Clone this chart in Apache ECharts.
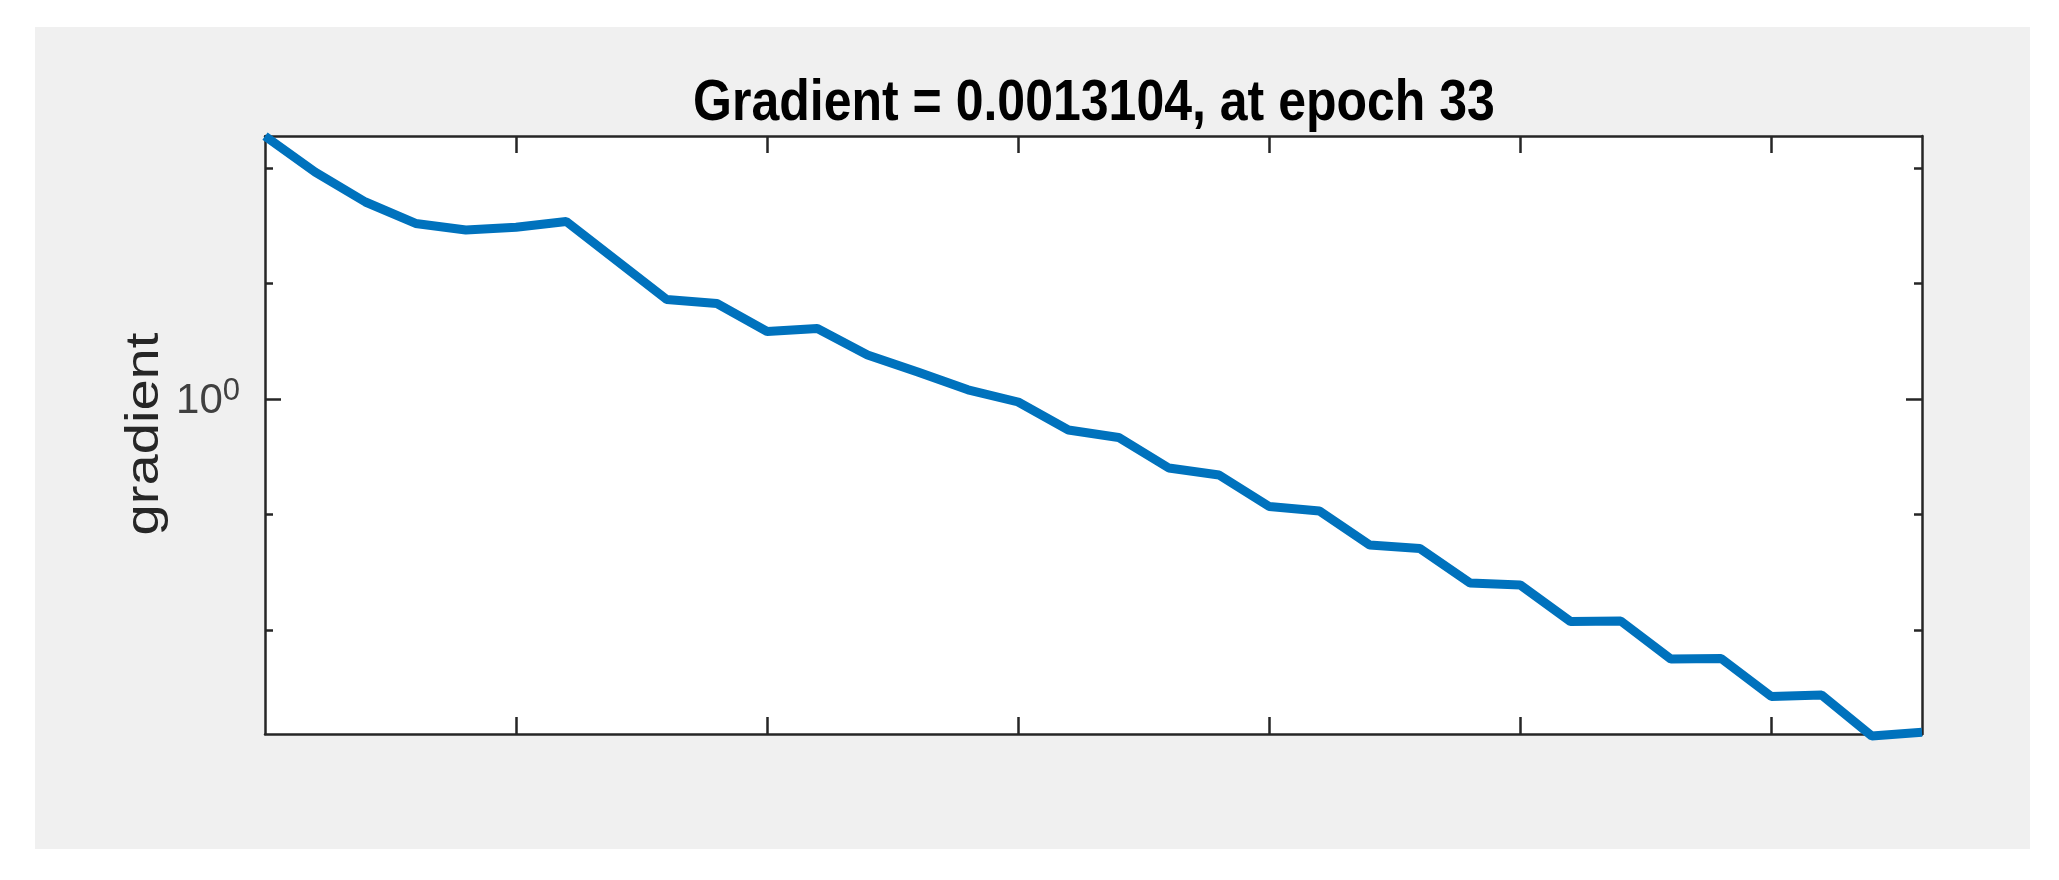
<!DOCTYPE html>
<html>
<head>
<meta charset="utf-8">
<title>Gradient</title>
<script src="https://cdn.jsdelivr.net/npm/echarts@6/dist/echarts.min.js"></script>
<style>
  html, body { margin: 0; padding: 0; background: #fff; }
  #chart { width: 2059px; height: 880px; }
</style>
</head>
<body>
<div id="chart"></div>
<script>
// training record, one value per epoch
const epochs = [0, 1, 2, 3, 4, 5, 6, 7, 8, 9, 10, 11, 12, 13, 14, 15, 16,
  17, 18, 19, 20, 21, 22, 23, 24, 25, 26, 27, 28, 29, 30, 31, 32, 33];
const gradient = [188, 91.9, 50.6, 33.0, 29.0, 30.6, 34.3, 15.8, 7.26, 6.70,
  3.84, 4.07, 2.40, 1.71, 1.20, 0.942, 0.539, 0.465, 0.253, 0.220,
  0.1175, 0.1074, 0.0546, 0.0509, 0.0256, 0.0246, 0.01189, 0.01201,
  0.00563, 0.00569, 0.00267, 0.00275, 0.001216, 0.0013104];

const xTicks = [5, 10, 15, 20, 25, 30];
const yMajorTicks = [1];
const yMinorTicks = [0.01, 0.1, 10, 100];
const yMin = 0.001265;
const yMax = 188.4;
const titleText = 'Gradient = 0.0013104, at epoch 33';
const yName = 'gradient';

const axisColor = '#262626';
const lineColor = '#0072BD';

let chart = echarts.init(document.getElementById('chart'));

function xAxisOpt(pos) {
  return {
    type: 'value',
    position: pos,
    min: 0,
    max: 33,
    axisLine: { show: true, lineStyle: { color: axisColor, width: 2.5 } },
    axisTick: { show: true, inside: true, length: 17, customValues: xTicks,
      lineStyle: { color: axisColor, width: 2.5 } },
    axisLabel: { show: false },
    splitLine: { show: false }
  };
}

function yAxisOpt(pos, ticks, len, withLine, withLabel) {
  return {
    type: 'log',
    logBase: 10,
    position: pos,
    min: yMin,
    max: yMax,
    axisLine: { show: withLine, lineStyle: { color: axisColor, width: 2.5 } },
    axisTick: { show: true, inside: true, length: len, customValues: ticks,
      lineStyle: { color: axisColor, width: 2.5 } },
    axisLabel: withLabel ? {
      show: true,
      customValues: yMajorTicks,
      margin: 25,
      formatter: function () { return '{b|10}{s|0}'; },
      rich: {
        b: { fontFamily: 'Liberation Sans', fontSize: 42, color: '#404040',
          lineHeight: 46, verticalAlign: 'bottom', padding: [14, 0, 0, 0] },
        s: { fontFamily: 'Liberation Sans', fontSize: 31, color: '#404040',
          lineHeight: 31, verticalAlign: 'top' }
      }
    } : { show: false },
    splitLine: { show: false }
  };
}

chart.setOption({
  backgroundColor: '#fff',
  animation: false,
  graphic: [
    {
      type: 'rect', z: -10,
      shape: { x: 35, y: 27, width: 1995, height: 822 },
      style: { fill: '#f0f0f0' }
    },
    {
      type: 'text', x: 1094, y: 104, scaleY: 1.14,
      style: { text: titleText, fill: '#000', align: 'center', verticalAlign: 'middle',
        font: 'bold 50px "Liberation Sans"' }
    },
    {
      type: 'text', x: 145, y: 434, rotation: Math.PI / 2, scaleX: 1.22,
      style: { text: yName, fill: '#262626', align: 'center', verticalAlign: 'middle',
        font: '46px "Liberation Sans"' }
    }
  ],
  grid: {
    left: 265, top: 136, width: 1657, height: 598,
    show: true, backgroundColor: '#fff', borderWidth: 0
  },
  xAxis: [xAxisOpt('bottom'), xAxisOpt('top')],
  yAxis: [
    yAxisOpt('left', yMajorTicks, 16, true, true),
    yAxisOpt('left', yMinorTicks, 8, false, false),
    yAxisOpt('right', yMajorTicks, 16, true, false),
    yAxisOpt('right', yMinorTicks, 8, false, false)
  ],
  series: [
    {
      type: 'line',
      xAxisIndex: 0,
      yAxisIndex: 0,
      data: epochs.map((e, i) => [e, gradient[i]]),
      showSymbol: false,
      clip: false,
      lineStyle: { color: lineColor, width: 9 }
    }
  ]
});
</script>
</body>
</html>
